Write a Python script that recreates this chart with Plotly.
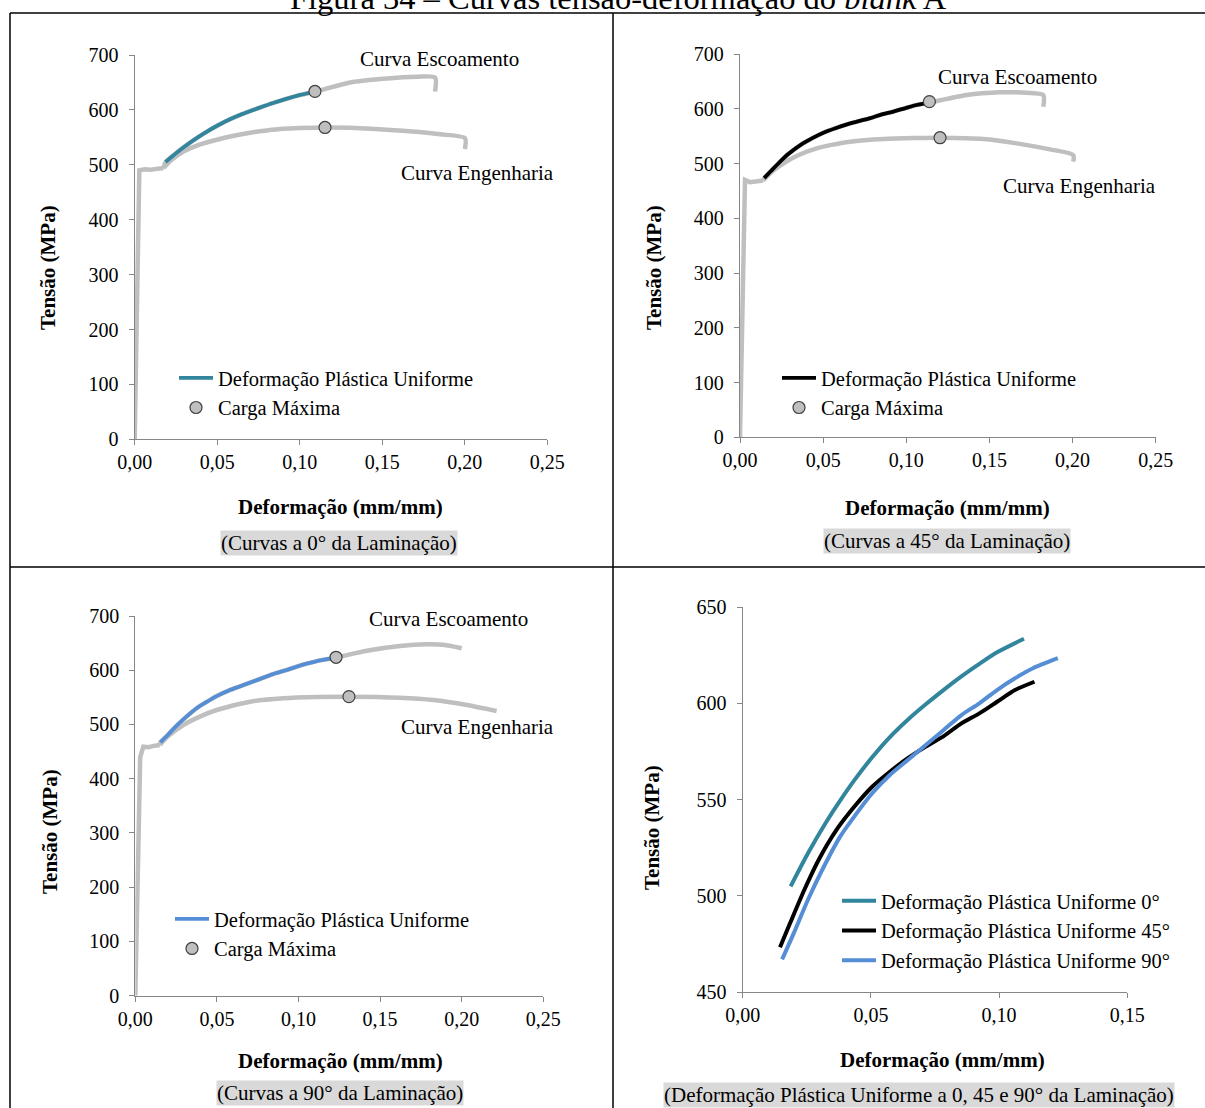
import plotly.graph_objects as go

# ---------------- DATA ----------------
# 0 degrees
yield0_x = [0, 0.0028, 0.006, 0.010, 0.014, 0.0175]
yield0_y = [0, 490, 492, 491, 493, 494]
uni0_x = [0.0187, 0.0254, 0.0324, 0.0380, 0.0435, 0.0505, 0.0574, 0.0644, 0.0714, 0.0784, 0.0853, 0.0923, 0.0992, 0.1097]
uni0_y = [505.0, 522.0, 538.0, 549.5, 560.0, 572.0, 582.5, 591.5, 599.5, 607.0, 614.0, 620.5, 626.5, 633.5]
eng0_x = [0.0175, 0.022, 0.0295, 0.0397, 0.0497, 0.060, 0.070, 0.080, 0.090, 0.100, 0.115, 0.130, 0.1406, 0.155, 0.1709, 0.185, 0.2001, 0.2001]
eng0_y = [494, 508, 524, 537, 545.6, 553, 558.5, 562.5, 565.5, 566.9, 568, 567.5, 566, 563.5, 560, 555.5, 548.6, 528.6]
flow0_post_x = [0.1305, 0.1507, 0.1709, 0.182, 0.182]
flow0_post_y = [650, 656.8, 660.4, 659, 633.6]
max0_x = [0.1092, 0.1153]
max0_y = [633.6, 568.0]

# 45 degrees
yield45_x = [0, 0.003, 0.006, 0.010, 0.0140]
yield45_y = [0, 470, 466, 467, 469]
uni45_x = [0.01455, 0.01845, 0.0240, 0.0296, 0.0365, 0.0435, 0.0505, 0.0574, 0.0644, 0.0714, 0.0784, 0.0853, 0.0923, 0.0992, 0.1062, 0.1138]
uni45_y = [473.4, 485.8, 503.1, 518.7, 534.2, 546.3, 556.7, 564.5, 571.5, 577.5, 583.0, 589.6, 594.8, 600.8, 606.9, 611.2]
eng45_x = [0.0140, 0.020, 0.026, 0.035, 0.0461, 0.055, 0.0662, 0.0862, 0.1050, 0.1203, 0.1463, 0.1664, 0.1864, 0.2004, 0.2004]
eng45_y = [469, 487, 500, 515, 527.7, 534, 539.8, 544.7, 546.5, 547.1, 544.7, 536.8, 525.9, 515.5, 503.3]
flow45_post_x = [0.1363, 0.1564, 0.1724, 0.1824, 0.1824]
flow45_post_y = [625.1, 630.0, 629.3, 625.1, 603.7]
max45_x = [0.1139, 0.1203]
max45_y = [612.9, 547.1]

# 90 degrees
yield90_x = [0, 0.003, 0.0049, 0.008, 0.012, 0.0150]
yield90_y = [0, 440, 459, 458, 461, 462]
uni90_x = [0.01537, 0.0199, 0.0254, 0.0310, 0.0380, 0.0435, 0.0505, 0.0574, 0.0644, 0.0714, 0.0784, 0.0853, 0.0923, 0.0992, 0.1062, 0.1132, 0.1229]
uni90_y = [467.1, 480.6, 497.9, 513.5, 530.8, 541.2, 553.3, 562.8, 570.6, 578.4, 586.2, 593.9, 600.0, 606.9, 613.0, 618.2, 623.4]
eng90_x = [0.0150, 0.020, 0.0294, 0.0399, 0.0499, 0.0703, 0.0907, 0.1111, 0.1309, 0.1622, 0.1826, 0.2031, 0.2214]
eng90_y = [462, 478, 499, 515, 526.7, 542, 548.3, 550.7, 551.3, 549.4, 545.2, 536, 524.9]
flow90_post_x = [0.1418, 0.1622, 0.1786, 0.1887, 0.2000]
flow90_post_y = [636, 644.7, 647.8, 647, 640.5]
max90_x = [0.1230, 0.1309]
max90_y = [623.9, 551.3]

# Labels
title_text = "Figura 34 – Curvas tensão-deformação do <i>blank</i> A"
y_title = "Tensão (MPa)"
x_title = "Deformação (mm/mm)"
captions = ["(Curvas a 0° da Laminação)", "(Curvas a 45° da Laminação)",
            "(Curvas a 90° da Laminação)",
            "(Deformação Plástica Uniforme a 0, 45 e 90° da Laminação)"]
leg_uni = "Deformação Plástica Uniforme"
leg_max = "Carga Máxima"
leg4 = ["Deformação Plástica Uniforme 0°", "Deformação Plástica Uniforme 45°",
        "Deformação Plástica Uniforme 90°"]
lbl_flow = "Curva Escoamento"
lbl_eng = "Curva Engenharia"

# ---------------- STYLE ----------------
W, H = 1205, 1108
FONT = "Liberation Serif, Times New Roman, serif"
GREY = "#BFBFBF"
TEAL = "#31859C"
BLACK = "#000000"
BLUE = "#558ED5"
AXIS = "#868686"


def px(x):
    return x / W


def py(y):
    return 1 - y / H


fig = go.Figure()

panels = [
    dict(xd=(134.7, 547.3), yd=(55, 439.3), xr=[0, 0.25], yr=[0, 700], dx=0.05, dy=100),
    dict(xd=(740, 1155.7), yd=(54, 437.3), xr=[0, 0.25], yr=[0, 700], dx=0.05, dy=100),
    dict(xd=(135.3, 543.3), yd=(616, 995.7), xr=[0, 0.25], yr=[0, 700], dx=0.05, dy=100),
    dict(xd=(742.7, 1127.3), yd=(607, 992.3), xr=[0, 0.15], yr=[450, 650], dx=0.05, dy=50),
]

layout_axes = {}
for i, p in enumerate(panels):
    n = "" if i == 0 else str(i + 1)
    common = dict(showline=True, linecolor=AXIS, linewidth=1.3, ticks="outside",
                  ticklen=5, tickwidth=1.3, tickcolor=AXIS, showgrid=False,
                  zeroline=False, fixedrange=True, automargin=False,
                  tickfont=dict(family=FONT, size=20, color="black"))
    layout_axes["xaxis" + n] = dict(common, domain=[px(p["xd"][0]), px(p["xd"][1])],
                                    range=p["xr"], dtick=p["dx"], tick0=0,
                                    tickformat=".2f", anchor="y" + n)
    layout_axes["yaxis" + n] = dict(common, domain=[py(p["yd"][1]), py(p["yd"][0])],
                                    range=p["yr"], dtick=p["dy"], tick0=0,
                                    anchor="x" + n, ticklabelstandoff=6)


def grey(x, y, ax, shape):
    fig.add_trace(go.Scatter(x=x, y=y, mode="lines", xaxis="x" + ax, yaxis="y" + ax,
                             line=dict(color=GREY, width=4.5, shape=shape, smoothing=0.7),
                             showlegend=False, hoverinfo="skip"))


sets = [
    (yield0_x, yield0_y, uni0_x, uni0_y, eng0_x, eng0_y, flow0_post_x, flow0_post_y, max0_x, max0_y, TEAL),
    (yield45_x, yield45_y, uni45_x, uni45_y, eng45_x, eng45_y, flow45_post_x, flow45_post_y, max45_x, max45_y, BLACK),
    (yield90_x, yield90_y, uni90_x, uni90_y, eng90_x, eng90_y, flow90_post_x, flow90_post_y, max90_x, max90_y, BLUE),
]

for i, s in enumerate(sets):
    yx, yy, ux, uy, ex, ey, fqx, fqy, mx, my, col = s
    ax = "" if i == 0 else str(i + 1)
    lg = "legend" if i == 0 else "legend" + str(i + 1)
    grey(yx, yy, ax, "linear")
    grey(yx[-1:] + ux + fqx, yy[-1:] + uy + fqy, ax, "spline")
    grey(ex, ey, ax, "spline")
    fig.add_trace(go.Scatter(x=ux, y=uy, mode="lines", xaxis="x" + ax, yaxis="y" + ax,
                             line=dict(color=col, width=3.8, shape="spline", smoothing=0.7),
                             name=leg_uni, legend=lg))
    fig.add_trace(go.Scatter(x=mx, y=my, mode="markers", xaxis="x" + ax, yaxis="y" + ax,
                             marker=dict(color=GREY, size=12, line=dict(color="#404040", width=1.2)),
                             name=leg_max, legend=lg))

for (ux, uy, col, nm) in [(uni0_x, uni0_y, TEAL, leg4[0]), (uni45_x, uni45_y, BLACK, leg4[1]),
                          (uni90_x, uni90_y, BLUE, leg4[2])]:
    fig.add_trace(go.Scatter(x=ux, y=uy, mode="lines", xaxis="x4", yaxis="y4",
                             line=dict(color=col, width=4, shape="spline", smoothing=0.7),
                             name=nm, legend="legend4"))

legfont = dict(family=FONT, size=20.5, color="black")
legs = {}
for key, (lx, ly) in {"legend": (174, 358), "legend2": (777, 358),
                      "legend3": (170, 899), "legend4": (837, 881)}.items():
    legs[key] = dict(x=px(lx), y=py(ly), xanchor="left", yanchor="top", font=legfont,
                     bgcolor="rgba(0,0,0,0)", borderwidth=0, itemwidth=34,
                     tracegroupgap=0)

annotations = []
annotations.append(dict(text=title_text, x=px(618), y=py(18), xref="paper", yref="paper",
                        xanchor="center", yanchor="bottom", showarrow=False,
                        font=dict(family=FONT, size=32.5, color="black")))
for (cx, cy, t) in [(439, 59, lbl_flow), (477, 173, lbl_eng), (1017, 77, lbl_flow),
                    (1079, 186, lbl_eng), (448, 619, lbl_flow), (477, 727, lbl_eng)]:
    annotations.append(dict(text=t, x=px(cx), y=py(cy), xref="paper", yref="paper",
                            xanchor="center", yanchor="middle", showarrow=False,
                            font=dict(family=FONT, size=21, color="black")))
for (cx, cy) in [(48, 268), (654, 268), (50, 832), (652, 828)]:
    annotations.append(dict(text="<b>" + y_title + "</b>", x=px(cx), y=py(cy), xref="paper",
                            yref="paper", xanchor="center", yanchor="middle", textangle=-90,
                            showarrow=False, font=dict(family=FONT, size=21, color="black")))
for (cx, cy) in [(340, 507), (947, 508), (340, 1061), (942, 1060)]:
    annotations.append(dict(text="<b>" + x_title + "</b>", x=px(cx), y=py(cy), xref="paper",
                            yref="paper", xanchor="center", yanchor="middle",
                            showarrow=False, font=dict(family=FONT, size=21, color="black")))
for (cx, cy), t in zip([(339, 543), (947, 541), (340, 1093), (919, 1095)], captions):
    annotations.append(dict(text=t, x=px(cx), y=py(cy), xref="paper", yref="paper",
                            xanchor="center", yanchor="middle", showarrow=False,
                            bgcolor="#D9D9D9", borderpad=0,
                            font=dict(family=FONT, size=21, color="black")))

frame = dict(color="black", width=1.5)
shapes = [
    dict(type="line", xref="paper", yref="paper", x0=px(10), x1=px(1210), y0=py(13), y1=py(13), line=frame),
    dict(type="line", xref="paper", yref="paper", x0=px(10), x1=px(10), y0=py(13), y1=py(1115), line=frame),
    dict(type="line", xref="paper", yref="paper", x0=px(613), x1=px(613), y0=py(13), y1=py(1115), line=frame),
    dict(type="line", xref="paper", yref="paper", x0=px(10), x1=px(1210), y0=py(567), y1=py(567), line=frame),
]

fig.update_layout(
    width=W, height=H, margin=dict(l=0, r=0, t=0, b=0, pad=0, autoexpand=False),
    paper_bgcolor="white", plot_bgcolor="white",
    separators=",.", font=dict(family=FONT, color="black"),
    annotations=annotations, shapes=shapes, hovermode=False,
    **layout_axes, **legs,
)

fig.write_html("out.html", config={"displayModeBar": False},
               post_script="document.body.style.margin='0px';document.body.style.overflow='hidden';")
